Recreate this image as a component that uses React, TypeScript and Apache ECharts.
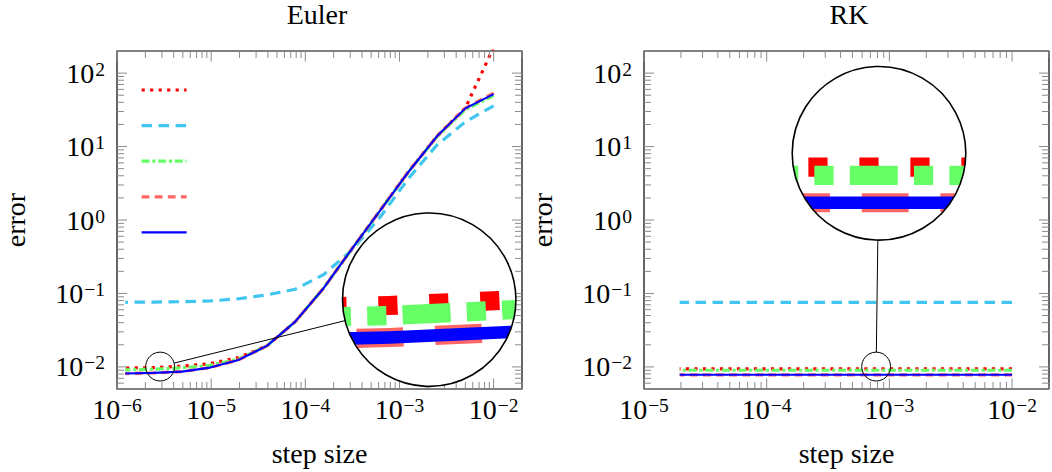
import React, { useEffect, useRef } from 'react';
import * as echarts from 'echarts';

const FONT = '"Liberation Serif", "DejaVu Serif", serif';

// ---- data ----
const eulerSteps = [1e-2, 5e-3, 2.5e-3, 1.25e-3, 6.25e-4, 3.125e-4, 1.5625e-4, 7.8125e-5, 3.90625e-5, 1.953125e-5, 9.765625e-6, 4.8828125e-6, 2.44140625e-6, 1.220703125e-6];
const eulerRed = [225, 33.4, 13.8, 4.6, 1.36, 0.405, 0.118, 0.0413, 0.0193, 0.0134, 0.0111, 0.0102, 0.0098, 0.0096];
const eulerCyan = [35.9, 21.7, 10.5, 3.7, 1.1, 0.39, 0.18, 0.114, 0.0955, 0.0846, 0.079, 0.0772, 0.0763, 0.0758];
const eulerGreen = [49.5, 31.8, 13.6, 4.55, 1.35, 0.403, 0.118, 0.0413, 0.0193, 0.0128, 0.0105, 0.0097, 0.0093, 0.0091];
const eulerPink = [53.5, 33.4, 13.8, 4.58, 1.36, 0.405, 0.118, 0.0413, 0.0193, 0.01245, 0.00978, 0.00863, 0.00829, 0.00811];
const eulerBlue = [51.8, 33.1, 13.8, 4.54, 1.356, 0.405, 0.1178, 0.0413, 0.0193, 0.01245, 0.00978, 0.00863, 0.00829, 0.00811];

const rkSteps = [1e-2, 5e-3, 2.5e-3, 1.25e-3, 6.25e-4, 3.125e-4, 1.5625e-4, 7.8125e-5, 3.90625e-5, 1.953125e-5];
const rkRed = [0.0094, 0.0094, 0.0094, 0.0094, 0.0094, 0.0094, 0.0094, 0.0094, 0.0094, 0.0094];
const rkCyan = [0.0758, 0.0758, 0.0758, 0.0758, 0.0758, 0.0758, 0.0758, 0.0758, 0.0758, 0.0758];
const rkGreen = [0.009, 0.009, 0.009, 0.009, 0.009, 0.009, 0.009, 0.009, 0.009, 0.009];
const rkPink = [0.0078, 0.0078, 0.0078, 0.0078, 0.0078, 0.0078, 0.0078, 0.0078, 0.0078, 0.0078];
const rkBlue = [0.0078, 0.0078, 0.0078, 0.0078, 0.0078, 0.0078, 0.0078, 0.0078, 0.0078, 0.0078];

const seriesNames = ['s1', 's2', 's3', 's4', 's5'];
const panelTitles = ['Euler', 'RK'];
const xAxisTitle = 'step size';
const yAxisTitle = 'error';
const xRanges: [number, number][] = [[1e-6, 2e-2], [1e-5, 2e-2]];
const yRange: [number, number] = [0.005, 200];

// ---- styles ----
const lineColors = ['#ff0000', '#3fc5f0', '#66ff66', '#ff6666', '#0000ff'];
const lineWidths = [3.2, 3.2, 3.2, 3.2, 2.1];
const lineDashes: (number[] | null)[] = [[3.2, 5.3], [10.5, 6.5], [8, 2.7, 3.2, 2.7], [7.8, 5.3], null];

type Spy = { point: [number, number]; center: [number, number]; radius: number; mag: number };
const eulerSpy: Spy = { point: [2.87e-6, 0.0101], center: [429.2, 299.7], radius: 86.7, mag: 6 };
const rkSpy: Spy = { point: [7.8e-4, 0.0101], center: [879, 153.3], radius: 86.8, mag: 6 };

const GRID_TOP = 51;
const GRID_H = 338;
const GRID_W = 410;
const GRID_LEFTS = [112, 644];

function supLabel(v: number): string {
  const e = Math.log10(v);
  const r = Math.round(e);
  if (Math.abs(e - r) > 1e-6) return '';
  const s = r < 0 ? '\u2212' + -r : String(r);
  return '{b|10}{s|' + s + '}';
}

const rich = {
  b: { fontFamily: FONT, fontSize: 28, lineHeight: 28, padding: [3.5, 0, 0, 0], verticalAlign: 'bottom', color: '#000' },
  s: { fontFamily: FONT, fontSize: 19.5, lineHeight: 20, verticalAlign: 'top', color: '#000', padding: [0, 0, 0, 1] },
};

function logTicks(min: number, max: number) {
  const out: { v: number; major: boolean }[] = [];
  for (let e = Math.floor(Math.log10(min)); e <= Math.ceil(Math.log10(max)); e++) {
    for (let m = 1; m <= 9; m++) {
      const v = m * Math.pow(10, e);
      if (v >= min * 0.9999 && v <= max * 1.0001) out.push({ v, major: m === 1 });
    }
  }
  return out;
}

function lineSeries(gi: number, steps: number[], data: number[][]) {
  return data.map((ys, i) => ({
    type: 'line',
    name: seriesNames[i],
    xAxisIndex: gi,
    yAxisIndex: gi,
    data: steps.map((x, k) => [x, ys[k]]),
    symbol: 'none',
    showSymbol: false,
    clip: true,
    z: 2 + i * 0.01,
    lineStyle: { color: lineColors[i], width: lineWidths[i], type: lineDashes[i] || 'solid', cap: 'butt' },
    itemStyle: { color: lineColors[i] },
    emphasis: { disabled: true },
  }));
}

function tickSeries(gi: number) {
  const xt = logTicks(xRanges[gi][0], xRanges[gi][1]);
  const yt = logTicks(yRange[0], yRange[1]);
  return {
    type: 'custom',
    xAxisIndex: gi,
    yAxisIndex: gi,
    coordinateSystem: 'cartesian2d',
    data: [[xRanges[gi][0], yRange[0]]],
    silent: true,
    clip: false,
    z: 3,
    renderItem: (params: any, api: any) => {
      const cs = params.coordSys;
      const left = cs.x, top = cs.y, right = cs.x + cs.width, bottom = cs.y + cs.height;
      const children: any[] = [];
      const st = { stroke: '#8a8a8a', lineWidth: 1 };
      xt.forEach((t) => {
        const px = api.coord([t.v, yRange[0]])[0];
        const len = t.major ? 10.5 : 7;
        children.push({ type: 'line', shape: { x1: px, y1: bottom, x2: px, y2: bottom - len }, style: st });
        children.push({ type: 'line', shape: { x1: px, y1: top, x2: px, y2: top + len }, style: st });
      });
      yt.forEach((t) => {
        const py = api.coord([xRanges[gi][0], t.v])[1];
        const len = t.major ? 10 : 7;
        children.push({ type: 'line', shape: { x1: left, y1: py, x2: left + len, y2: py }, style: st });
        children.push({ type: 'line', shape: { x1: right, y1: py, x2: right - len, y2: py }, style: st });
      });
      return { type: 'group', children };
    },
  };
}

function spySeries(gi: number, steps: number[], data: number[][], spy: Spy) {
  return {
    type: 'custom',
    xAxisIndex: gi,
    yAxisIndex: gi,
    coordinateSystem: 'cartesian2d',
    data: [spy.point],
    silent: true,
    clip: false,
    z: 10,
    renderItem: (params: any, api: any) => {
      const s = api.coord(spy.point);
      const [bx, by] = spy.center;
      const m = spy.mag;
      const R = spy.radius;
      const lines = data.map((ys, i) => {
        const pts = steps.map((x, k) => {
          const p = api.coord([x, ys[k]]);
          return [bx + m * (p[0] - s[0]), by + m * (p[1] - s[1])];
        });
        const dash = lineDashes[i];
        return {
          type: 'polyline',
          shape: { points: pts },
          style: {
            stroke: lineColors[i],
            lineWidth: lineWidths[i] * m,
            lineDash: dash ? dash.map((d) => d * m) : null,
            lineCap: 'butt',
            fill: 'none',
          },
        };
      });
      const r0 = R / m;
      const dx = bx - s[0], dy = by - s[1];
      const d = Math.hypot(dx, dy);
      const ux = dx / d, uy = dy / d;
      return {
        type: 'group',
        children: [
          { type: 'circle', shape: { cx: bx, cy: by, r: R }, style: { fill: '#fff', stroke: 'none' } },
          { type: 'group', clipPath: { type: 'circle', shape: { cx: bx, cy: by, r: R } }, children: lines },
          { type: 'circle', shape: { cx: bx, cy: by, r: R }, style: { fill: 'none', stroke: '#000', lineWidth: 1.6 } },
          { type: 'circle', shape: { cx: s[0], cy: s[1], r: r0 }, style: { fill: 'none', stroke: '#000', lineWidth: 1 } },
          { type: 'line', shape: { x1: s[0] + ux * r0, y1: s[1] + uy * r0, x2: bx - ux * R, y2: by - uy * R }, style: { stroke: '#000', lineWidth: 1 } },
        ],
      };
    },
  };
}

function xAxis(gi: number) {
  return {
    type: 'log',
    logBase: 10,
    gridIndex: gi,
    min: xRanges[gi][0],
    max: xRanges[gi][1],
    axisLine: { show: false },
    axisTick: { show: false },
    splitLine: { show: false },
    minorTick: { show: false },
    axisLabel: { formatter: supLabel, rich, margin: 6.5, color: '#000' },
    name: xAxisTitle,
    nameLocation: 'middle',
    nameGap: 50,
    nameTextStyle: { fontFamily: FONT, fontSize: 28, color: '#000' },
  };
}

function yAxis(gi: number, gap: number) {
  return {
    type: 'log',
    logBase: 10,
    gridIndex: gi,
    min: yRange[0],
    max: yRange[1],
    axisLine: { show: false },
    axisTick: { show: false },
    splitLine: { show: false },
    minorTick: { show: false },
    axisLabel: { formatter: supLabel, rich, margin: 12, color: '#000' },
    name: yAxisTitle,
    nameLocation: 'middle',
    nameRotate: 90,
    nameGap: gap,
    nameTextStyle: { fontFamily: FONT, fontSize: 28, color: '#000' },
  };
}

export default function App() {
  const ref = useRef<HTMLDivElement>(null);
  useEffect(() => {
    if (!ref.current) return;
    const chart = echarts.init(ref.current, undefined, { renderer: 'svg' });
    const eulerData = [eulerRed, eulerCyan, eulerGreen, eulerPink, eulerBlue];
    const rkData = [rkRed, rkCyan, rkGreen, rkPink, rkBlue];
    const option: any = {
      animation: false,
      backgroundColor: '#fff',
      graphic: panelTitles.map((t, i) => ({
        type: 'text',
        x: GRID_LEFTS[i] + GRID_W / 2,
        y: 14,
        silent: true,
        style: {
          text: t,
          font: '28px ' + FONT,
          fill: '#000',
          align: 'center',
          verticalAlign: 'middle',
          textAlign: 'center',
          textVerticalAlign: 'middle',
        },
      })),
      legend: {
        data: seriesNames,
        left: 135,
        top: 78,
        orient: 'vertical',
        itemWidth: 45,
        itemHeight: 14,
        itemGap: 23,
        formatter: () => '',
        selectedMode: false,
        lineStyle: { width: 'inherit' },
        itemStyle: { opacity: 0 },
        textStyle: { fontSize: 1 },
      },
      grid: GRID_LEFTS.map((l) => ({
        left: l,
        top: GRID_TOP,
        width: GRID_W,
        height: GRID_H,
        show: true,
        borderColor: '#000',
        borderWidth: 1.2,
        backgroundColor: 'transparent',
        containLabel: false,
      })),
      xAxis: [xAxis(0), xAxis(1)],
      yAxis: [yAxis(0, 88), yAxis(1, 88)],
      series: [
        ...lineSeries(0, eulerSteps, eulerData),
        ...lineSeries(1, rkSteps, rkData),
        tickSeries(0),
        tickSeries(1),
        spySeries(0, eulerSteps, eulerData, eulerSpy),
        spySeries(1, rkSteps, rkData, rkSpy),
      ],
    };
    chart.setOption(option);
    return () => chart.dispose();
  }, []);
  return <div ref={ref} style={{ position: 'absolute', left: 0, top: 0, width: 1052, height: 472 }} />;
}
